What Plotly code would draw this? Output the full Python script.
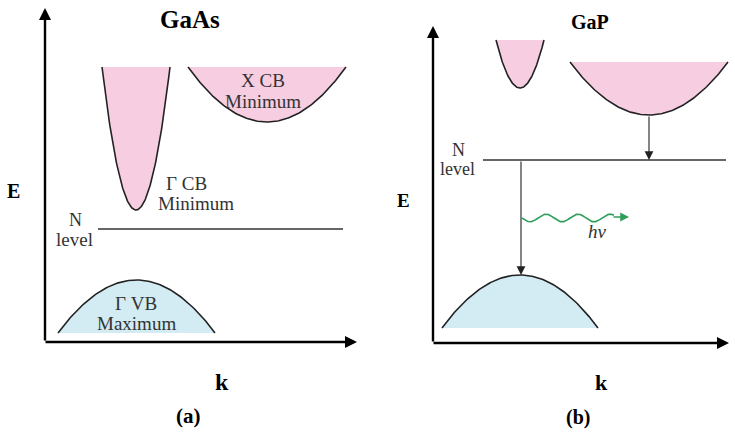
import numpy as np
import plotly.graph_objects as go

# ---- schematic data (figure pixel coordinates: k to the right, E downwards on screen) ----
panel_titles = ["GaAs", "GaP"]
panel_tags = ["(a)", "(b)"]
axis_origin_k = [45, 433]
axis_origin_E = [342, 343]
axis_k_end = [357, 729]
axis_E_end = [8, 26]

# conduction-band valleys: vertex k, vertex E, half width at top, top E
cb_k = [136, 267, 520, 649]
cb_E = [210, 122, 88, 115]
cb_hw = [34, 79, 24, 79]
cb_top = [67, 67, 40, 62]

# valence-band maxima: peak k, peak E, half width at base, base E
vb_k = [136.5, 520]
vb_E = [280, 275]
vb_hw = [78.5, 78]
vb_base = [333, 328]

# N impurity level
n_E = [229, 160]
n_k0 = [98, 483]
n_k1 = [343, 726]

PINK = "#f6cde1"
BLUE = "#d3ebf3"
CURVE = "#222222"
TXT = "#333333"
FONT = "Liberation Serif"

fig = go.Figure()

def add_band(kc, Ec, hw, Eend, fillc):
    k = np.linspace(kc - hw, kc + hw, 121)
    E = Ec + (Eend - Ec) * ((k - kc) / hw) ** 2
    fig.add_trace(go.Scatter(x=k, y=E, mode="lines", fill="toself", fillcolor=fillc,
                             line=dict(width=0), hoverinfo="skip"))
    fig.add_trace(go.Scatter(x=k, y=E, mode="lines", line=dict(color=CURVE, width=1.6),
                             hoverinfo="skip"))

for i in range(len(cb_k)):
    add_band(cb_k[i], cb_E[i], cb_hw[i], cb_top[i], PINK)
for i in range(len(vb_k)):
    add_band(vb_k[i], vb_E[i], vb_hw[i], vb_base[i], BLUE)

for i in range(2):
    fig.add_trace(go.Scatter(x=[n_k0[i], n_k1[i]], y=[n_E[i], n_E[i]], mode="lines",
                             line=dict(color="#333333", width=1.3), hoverinfo="skip"))

annotations = []

def arrow(x0, y0, x1, y1, color="black", width=1.0, size=1.0, head=2):
    annotations.append(dict(x=x1, y=y1, ax=x0, ay=y0, xref="x", yref="y", axref="x", ayref="y",
                            text="", showarrow=True, arrowhead=head, arrowsize=size,
                            arrowwidth=width, arrowcolor=color, standoff=0))

# axes
for i in range(2):
    arrow(axis_origin_k[i], axis_origin_E[i], axis_origin_k[i], axis_E_end[i], width=2.4, size=1.0)
    arrow(axis_origin_k[i] - 1, axis_origin_E[i], axis_k_end[i], axis_origin_E[i], width=2.4, size=1.0)

# transitions in GaP
arrow(cb_k[3], cb_E[3], cb_k[3], n_E[1], color="#222", width=1.1, size=1.6)
arrow(cb_k[2] + 1, n_E[1], cb_k[2] + 1, vb_E[1], color="#222", width=1.1, size=1.6)

# photon wave
wave_k = np.linspace(522, 614, 200)
wave_E = 218 + 3.8 * np.sin(2 * np.pi * (wave_k - 522) / 32)
fig.add_trace(go.Scatter(x=wave_k, y=wave_E, mode="lines", line=dict(color="#2e9e5b", width=1.6),
                         hoverinfo="skip"))
arrow(612, 217, 629, 217, color="#2e9e5b", width=1.6, size=1.1)

def label(x, y, t, size=18, color=TXT, bold=False, italic=False, h=None):
    if bold:
        t = "<b>" + t + "</b>"
    if italic:
        t = "<i>" + t + "</i>"
    a = dict(x=x, y=y, xref="x", yref="y", text=t, showarrow=False,
             xanchor="center", yanchor="middle",
             font=dict(family=FONT, size=size, color=color))
    if h is not None:
        a["height"] = h
    annotations.append(a)

label(190, 19, panel_titles[0], size=25, color="black", bold=True)
label(590, 22, panel_titles[1], size=20, color="black", bold=True)
label(13, 191, "E", size=20, color="black", bold=True)
label(403, 200, "E", size=19, color="black", bold=True)
label(222, 382, "k", size=24, color="black", bold=True)
label(601, 382, "k", size=22, color="black", bold=True)
label(188, 416, panel_tags[0], size=21, color="black", bold=True)
label(578, 417, panel_tags[1], size=20, color="black", bold=True)

label(263, 80, "X CB", size=19)
label(263, 101, "Minimum", size=19)
label(186, 183, "Γ CB", size=19)
label(196, 203, "Minimum", size=19)
label(75, 219, "N", size=18, h=17)
label(74, 239, "level", size=19, h=17)
label(136, 303, "Γ VB", size=19)
label(136, 323, "Maximum", size=19)
label(458, 150, "N", size=18, h=16)
label(457, 169, "level", size=18, h=16)
label(597, 231, "hν", size=19, italic=True)

fig.update_layout(
    width=735, height=434, margin=dict(l=0, r=0, t=0, b=0),
    paper_bgcolor="white", plot_bgcolor="white", showlegend=False,
    xaxis=dict(range=[0, 735], visible=False, fixedrange=True),
    yaxis=dict(range=[434, 0], visible=False, fixedrange=True),
    annotations=annotations,
)
fig.write_html("out.html")
